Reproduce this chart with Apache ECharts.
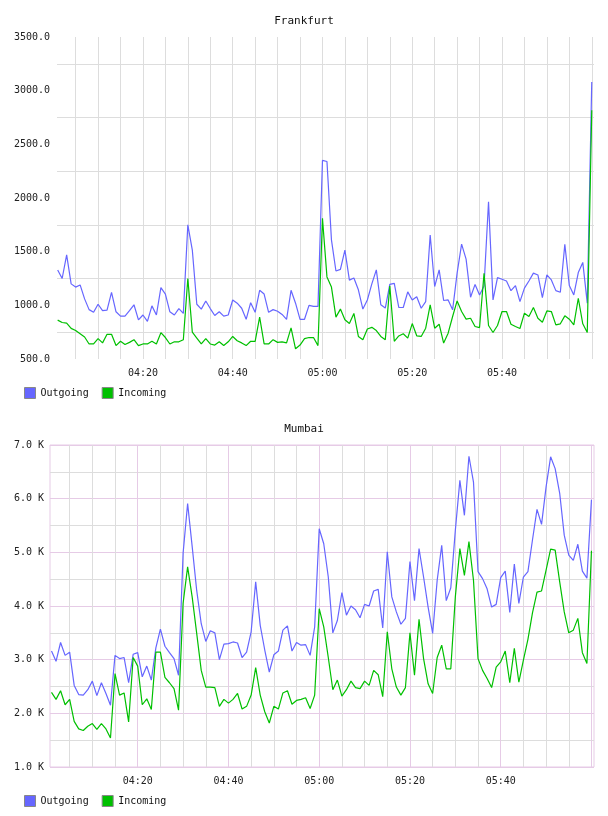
<!DOCTYPE html>
<html><head><meta charset="utf-8">
<script src="https://cdn.jsdelivr.net/npm/echarts@6/dist/echarts.min.js"></script>
<style>html,body{margin:0;padding:0;background:#fff}#c{width:608px;height:816px}</style>
</head><body><div id="c"></div>
<script>
const times = [
'04:01','04:02','04:03','04:04','04:05','04:06','04:07','04:08','04:09','04:10',
'04:11','04:12','04:13','04:14','04:15','04:16','04:17','04:18','04:19','04:20',
'04:21','04:22','04:23','04:24','04:25','04:26','04:27','04:28','04:29','04:30',
'04:31','04:32','04:33','04:34','04:35','04:36','04:37','04:38','04:39','04:40',
'04:41','04:42','04:43','04:44','04:45','04:46','04:47','04:48','04:49','04:50',
'04:51','04:52','04:53','04:54','04:55','04:56','04:57','04:58','04:59','05:00',
'05:01','05:02','05:03','05:04','05:05','05:06','05:07','05:08','05:09','05:10',
'05:11','05:12','05:13','05:14','05:15','05:16','05:17','05:18','05:19','05:20',
'05:21','05:22','05:23','05:24','05:25','05:26','05:27','05:28','05:29','05:30',
'05:31','05:32','05:33','05:34','05:35','05:36','05:37','05:38','05:39','05:40',
'05:41','05:42','05:43','05:44','05:45','05:46','05:47','05:48','05:49','05:50',
'05:51','05:52','05:53','05:54','05:55','05:56','05:57','05:58','05:59','06:00'];
const xTickLabels = ['04:20','04:40','05:00','05:20','05:40'];
const seriesNames = ['Outgoing','Incoming'];

const frankfurtOut = [
1330,1250,1470,1200,1170,1190,1060,960,935,1010,950,955,1120,940,900,900,950,1005,865,910,
850,995,910,1165,1105,940,910,970,925,1750,1515,1010,965,1040,970,905,940,900,910,1050,
1020,973,870,1025,935,1140,1105,935,960,945,915,870,1140,1020,870,870,1000,990,990,2350,
2340,1610,1320,1335,1515,1235,1255,1145,965,1050,1200,1330,1005,975,1195,1205,980,980,1125,1050,
1080,973,1035,1655,1175,1330,1045,1050,958,1300,1570,1430,1075,1195,1097,1180,1965,1050,1258,1243,
1227,1137,1184,1035,1160,1227,1300,1283,1072,1283,1237,1137,1122,1568,1184,1097,1305,1400,1020,3081];
const frankfurtIn = [
862,840,835,785,765,735,705,640,640,690,650,730,730,625,665,635,655,680,625,640,
640,665,640,745,700,640,660,660,680,1250,750,695,640,690,640,630,660,625,660,710,
670,650,625,665,665,890,640,640,680,655,660,650,790,595,630,690,700,700,625,1810,
1265,1170,890,965,865,830,925,710,680,780,795,765,710,680,1180,665,715,735,695,830,
716,710,787,1004,787,824,648,741,896,1041,942,871,880,803,793,1299,812,747,812,942,
942,824,803,784,927,896,979,880,843,948,942,818,828,902,871,818,1066,828,747,2818];
const mumbaiOut = [
3160,2970,3320,3080,3140,2520,2350,2340,2440,2600,2330,2570,2370,2150,3080,3020,3040,2570,3100,3130,
2680,2880,2620,3220,3570,3250,3130,3020,2710,4980,5910,5110,4290,3670,3340,3540,3500,3000,3290,3300,
3330,3310,3040,3140,3520,4450,3640,3180,2770,3090,3160,3550,3630,3160,3320,3270,3280,3080,3610,5440,
5160,4540,3500,3730,4250,3830,4000,3930,3780,4030,4000,4280,4310,3590,5010,4170,3890,3660,3770,4830,
4100,5070,4540,3980,3490,4480,5130,4100,4340,5410,6340,5690,6790,6310,4640,4510,4320,3980,4030,4530,
4650,3880,4780,4050,4540,4640,5230,5800,5520,6220,6780,6560,6100,5320,4950,4850,5150,4650,4520,5980];
const mumbaiIn = [
2390,2260,2420,2160,2260,1850,1710,1680,1760,1810,1700,1810,1710,1540,2740,2340,2380,1840,3040,2880,
2160,2270,2070,3140,3140,2670,2570,2460,2060,4050,4730,4170,3490,2800,2490,2490,2480,2130,2260,2190,
2260,2370,2080,2130,2340,2850,2340,2030,1820,2130,2080,2380,2420,2170,2240,2260,2290,2090,2340,3950,
3610,3040,2440,2620,2320,2440,2600,2480,2460,2600,2520,2800,2720,2310,3520,2830,2490,2340,2480,3500,
2710,3750,3020,2550,2370,3040,3270,2830,2830,4170,5070,4570,5200,4480,3020,2800,2650,2480,2860,2960,
3160,2570,3210,2580,2990,3380,3870,4260,4280,4670,5060,5040,4450,3890,3500,3550,3770,3130,2930,5030];

const FONT = 'DejaVu Sans Mono';
const BLUE = '#6666ff', GREEN = '#00c000';
const GRAY = '#dddddd', PINK = '#e6cbe6';
function toMin(t){ const p = t.split(':'); return (+p[0])*60 + (+p[1]); }
function fmtMin(v){ const m = Math.round(v); const h = Math.floor(m/60), mm = m%60;
  return (h<10?'0':'')+h+':'+(mm<10?'0':'')+mm; }
const xs = times.map(toMin);
function pairs(vals){ return vals.map((v,i)=>[xs[i], v]); }

function xAxisCfg(gi, min, max, step, splitColor, showLabels){
  return {
    type:'value', gridIndex:gi, min:min, max:max, minInterval:step, maxInterval:step, splitNumber:Math.round(120/step),
    axisLine:{show:false}, axisTick:{show:false},
    axisLabel:{show:showLabels, margin:9, fontFamily:FONT, fontSize:10, color:'#222',
      showMinLabel:false, showMaxLabel:false,
      formatter:function(v){ const s = fmtMin(v); return (Math.abs(v-Math.round(v))<1e-6 && xTickLabels.indexOf(s)>=0) ? s : ''; }},
    splitLine:{show:true, showMinLine:false, showMaxLine:false, lineStyle:{color:splitColor, width:1}}
  };
}

const chart = echarts.init(document.getElementById('c'), null, {renderer:'canvas'});
chart.setOption({
  animation:false,
  backgroundColor:'#ffffff',
  title:[
    {text:'Frankfurt', left:'center', top:11, textStyle:{fontFamily:FONT, fontSize:11, fontWeight:'normal', color:'#111'}},
    {text:'Mumbai', left:'center', top:419, textStyle:{fontFamily:FONT, fontSize:11, fontWeight:'normal', color:'#111'}}
  ],
  legend:[
    {data:seriesNames, left:24, top:387, padding:0, itemWidth:11, itemHeight:11, itemGap:13, icon:'rect',
     itemStyle:{borderColor:'#888', borderWidth:1},
     textStyle:{fontFamily:FONT, fontSize:10, color:'#111'}},
    {data:seriesNames, left:24, top:795, padding:0, itemWidth:11, itemHeight:11, itemGap:13, icon:'rect',
     itemStyle:{borderColor:'#888', borderWidth:1},
     textStyle:{fontFamily:FONT, fontSize:10, color:'#111'}}
  ],
  grid:[
    {left:57, right:14, top:37, height:322},
    {left:50, right:14, top:445, height:322, show:true, borderColor:PINK, borderWidth:1, backgroundColor:'transparent'}
  ],
  xAxis:[
    xAxisCfg(0, 240.85, 360.5, 5, GRAY, true),
    xAxisCfg(1, 240.67, 360.56, 5, GRAY, true),
    xAxisCfg(1, 240.67, 360.56, 20, PINK, false)
  ],
  yAxis:[
    {type:'value', gridIndex:0, min:500, max:3500, interval:250,
     axisLine:{show:false}, axisTick:{show:false},
     axisLabel:{margin:7, fontFamily:FONT, fontSize:10, color:'#222',
       formatter:function(v){ return v%500===0 ? v.toFixed(1) : ''; }},
     splitLine:{show:true, lineStyle:{color:['rgba(0,0,0,0)', GRAY], width:1}}},
    {type:'value', gridIndex:1, min:1000, max:7000, interval:500,
     axisLine:{show:false}, axisTick:{show:false},
     axisLabel:{margin:6, fontFamily:FONT, fontSize:10, color:'#222',
       formatter:function(v){ return v%1000===0 ? (v/1000).toFixed(1)+' K' : ''; }},
     splitLine:{show:true, lineStyle:{color:[PINK, GRAY], width:1}}}
  ],
  series:[
    {name:'Outgoing', type:'line', xAxisIndex:0, yAxisIndex:0, data:pairs(frankfurtOut), symbol:'none', color:BLUE, lineStyle:{width:1.2, color:BLUE}},
    {name:'Incoming', type:'line', xAxisIndex:0, yAxisIndex:0, data:pairs(frankfurtIn), symbol:'none', color:GREEN, lineStyle:{width:1.2, color:GREEN}},
    {name:'Outgoing', type:'line', xAxisIndex:1, yAxisIndex:1, data:pairs(mumbaiOut), symbol:'none', color:BLUE, lineStyle:{width:1.2, color:BLUE}},
    {name:'Incoming', type:'line', xAxisIndex:1, yAxisIndex:1, data:pairs(mumbaiIn), symbol:'none', color:GREEN, lineStyle:{width:1.2, color:GREEN}}
  ]
});
</script></body></html>
